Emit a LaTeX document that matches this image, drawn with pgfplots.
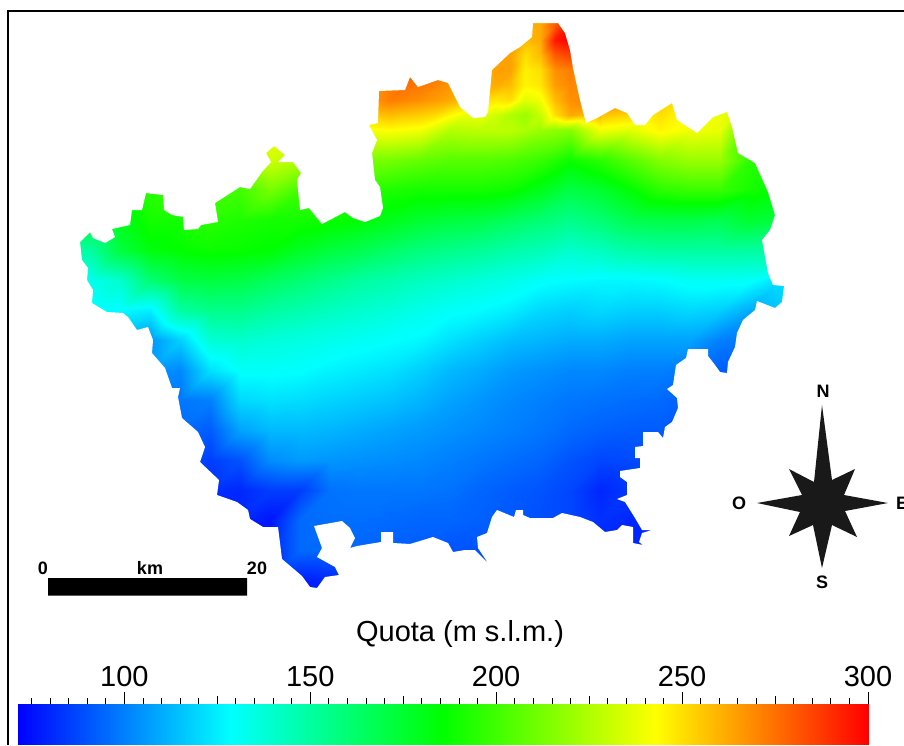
\documentclass[border=0pt]{standalone}
\usepackage{pgfplots}
\pgfplotsset{compat=1.18}
\usepackage{fontspec}
\setmainfont{Liberation Sans}
\pgfplotsset{colormap={quota}{rgb255(0)=(0,0,255) rgb255(1)=(0,255,255) rgb255(2)=(0,255,0) rgb255(3)=(255,255,0) rgb255(4)=(255,0,0)}}
\begin{document}
\begin{tikzpicture}[x=1pt,y=1pt]
\useasboundingbox (0,0) rectangle (904,745);
\begin{axis}[at={(0pt,0pt)},anchor=south west,width=904pt,height=745pt,scale only axis,
  xmin=0,xmax=904,ymin=0,ymax=745,y dir=reverse,hide axis,clip=false,
  colormap name=quota,point meta min=71.4,point meta max=300]
\addplot[surf,shader=interp,mesh/rows=21,mesh/cols=26,point meta=explicit] coordinates {
(60,10)[200] (90,10)[200] (120,10)[200] (150,10)[210] (180,10)[220] (210,10)[225] (240,10)[230] (270,10)[235] (300,10)[235] (330,10)[240] (360,10)[250] (390,10)[270] (420,10)[275] (450,10)[270] (480,10)[260] (510,10)[262] (540,10)[262] (570,10)[300] (600,10)[285] (630,10)[270] (660,10)[260] (690,10)[250] (720,10)[245] (750,10)[240] (780,10)[230] (810,10)[230]
(60,40)[200] (90,40)[200] (120,40)[200] (150,40)[210] (180,40)[220] (210,40)[225] (240,40)[230] (270,40)[235] (300,40)[235] (330,40)[240] (360,40)[250] (390,40)[270] (420,40)[275] (450,40)[270] (480,40)[260] (510,40)[260] (540,40)[257] (570,40)[298] (600,40)[285] (630,40)[270] (660,40)[260] (690,40)[250] (720,40)[245] (750,40)[240] (780,40)[230] (810,40)[230]
(60,70)[200] (90,70)[200] (120,70)[200] (150,70)[210] (180,70)[220] (210,70)[225] (240,70)[230] (270,70)[235] (300,70)[235] (330,70)[240] (360,70)[255] (390,70)[272] (420,70)[278] (450,70)[272] (480,70)[262] (510,70)[262] (540,70)[248] (570,70)[272] (600,70)[268] (630,70)[270] (660,70)[260] (690,70)[250] (720,70)[245] (750,70)[240] (780,70)[230] (810,70)[230]
(60,100)[200] (90,100)[200] (120,100)[200] (150,100)[210] (180,100)[220] (210,100)[225] (240,100)[230] (270,100)[235] (300,100)[235] (330,100)[240] (360,100)[262] (390,100)[272] (420,100)[268] (450,100)[262] (480,100)[250] (510,100)[256] (540,100)[246] (570,100)[268] (600,100)[272] (630,100)[268] (660,100)[255] (690,100)[246] (720,100)[240] (750,100)[225] (780,100)[205] (810,100)[205]
(60,130)[190] (90,130)[190] (120,130)[195] (150,130)[205] (180,130)[215] (210,130)[225] (240,130)[232] (270,130)[240] (300,130)[235] (330,130)[240] (360,130)[240] (390,130)[243] (420,130)[240] (450,130)[226] (480,130)[228] (510,130)[228] (540,130)[220] (570,130)[215] (600,130)[240] (630,130)[236] (660,130)[245] (690,130)[240] (720,130)[238] (750,130)[195] (780,130)[195] (810,130)[195]
(60,160)[190] (90,160)[190] (120,160)[195] (150,160)[200] (180,160)[210] (210,160)[215] (240,160)[225] (270,160)[232] (300,160)[225] (330,160)[218] (360,160)[212] (390,160)[212] (420,160)[208] (450,160)[205] (480,160)[205] (510,160)[203] (540,160)[198] (570,160)[188] (600,160)[195] (630,160)[205] (660,160)[215] (690,160)[220] (720,160)[220] (750,160)[195] (780,160)[190] (810,160)[190]
(60,190)[185] (90,190)[185] (120,190)[190] (150,190)[195] (180,190)[198] (210,190)[200] (240,190)[200] (270,190)[212] (300,190)[200] (330,190)[197] (360,190)[195] (390,190)[192] (420,190)[190] (450,190)[190] (480,190)[190] (510,190)[188] (540,190)[180] (570,190)[170] (600,190)[175] (630,190)[185] (660,190)[195] (690,190)[198] (720,190)[198] (750,190)[190] (780,190)[185] (810,190)[185]
(60,220)[170] (90,220)[175] (120,220)[180] (150,220)[190] (180,220)[190] (210,220)[195] (240,220)[192] (270,220)[190] (300,220)[190] (330,220)[188] (360,220)[185] (390,220)[180] (420,220)[175] (450,220)[172] (480,220)[170] (510,220)[165] (540,220)[160] (570,220)[155] (600,220)[160] (630,220)[168] (660,220)[170] (690,220)[170] (720,220)[168] (750,220)[175] (780,220)[172] (810,220)[170]
(60,250)[145] (90,250)[150] (120,250)[172] (150,250)[183] (180,250)[186] (210,250)[188] (240,250)[187] (270,250)[185] (300,250)[178] (330,250)[172] (360,250)[168] (390,250)[163] (420,250)[158] (450,250)[155] (480,250)[152] (510,250)[148] (540,250)[145] (570,250)[140] (600,250)[143] (630,250)[148] (660,250)[150] (690,250)[150] (720,250)[150] (750,250)[150] (780,250)[150] (810,250)[150]
(60,280)[132] (90,280)[132] (120,280)[140] (150,280)[160] (180,280)[170] (210,280)[172] (240,280)[170] (270,280)[165] (300,280)[160] (330,280)[155] (360,280)[150] (390,280)[147] (420,280)[143] (450,280)[140] (480,280)[137] (510,280)[134] (540,280)[130] (570,280)[128] (600,280)[127] (630,280)[127] (660,280)[128] (690,280)[131] (720,280)[131] (750,280)[130] (780,280)[122] (810,280)[122]
(60,310)[128] (90,310)[128] (120,310)[128] (150,310)[125] (180,310)[150] (210,310)[155] (240,310)[155] (270,310)[150] (300,310)[147] (330,310)[143] (360,310)[140] (390,310)[137] (420,310)[133] (450,310)[130] (480,310)[128] (510,310)[125] (540,310)[120] (570,310)[118] (600,310)[120] (630,310)[118] (660,310)[118] (690,310)[120] (720,310)[118] (750,310)[110] (780,310)[116] (810,310)[116]
(60,340)[115] (90,340)[112] (120,340)[110] (150,340)[105] (180,340)[118] (210,340)[138] (240,340)[140] (270,340)[137] (300,340)[135] (330,340)[133] (360,340)[131] (390,340)[129] (420,340)[127] (450,340)[122] (480,340)[118] (510,340)[114] (540,340)[112] (570,340)[110] (600,340)[110] (630,340)[108] (660,340)[108] (690,340)[108] (720,340)[100] (750,340)[98] (780,340)[100] (810,340)[100]
(60,370)[105] (90,370)[105] (120,370)[105] (150,370)[105] (180,370)[102] (210,370)[122] (240,370)[130] (270,370)[130] (300,370)[129] (330,370)[126] (360,370)[124] (390,370)[122] (420,370)[118] (450,370)[113] (480,370)[110] (510,370)[106] (540,370)[104] (570,370)[102] (600,370)[102] (630,370)[100] (660,370)[100] (690,370)[98] (720,370)[92] (750,370)[92] (780,370)[92] (810,370)[92]
(60,400)[100] (90,400)[100] (120,400)[100] (150,400)[100] (180,400)[98] (210,400)[100] (240,400)[120] (270,400)[122] (300,400)[121] (330,400)[119] (360,400)[117] (390,400)[115] (420,400)[112] (450,400)[108] (480,400)[105] (510,400)[102] (540,400)[100] (570,400)[98] (600,400)[97] (630,400)[96] (660,400)[95] (690,400)[92] (720,400)[90] (750,400)[90] (780,400)[90] (810,400)[90]
(60,430)[95] (90,430)[95] (120,430)[95] (150,430)[95] (180,430)[95] (210,430)[92] (240,430)[108] (270,430)[113] (300,430)[113] (330,430)[112] (360,430)[110] (390,430)[108] (420,430)[106] (450,430)[104] (480,430)[102] (510,430)[100] (540,430)[98] (570,430)[95] (600,430)[93] (630,430)[92] (660,430)[92] (690,430)[88] (720,430)[88] (750,430)[88] (780,430)[88] (810,430)[88]
(60,460)[90] (90,460)[90] (120,460)[90] (150,460)[90] (180,460)[90] (210,460)[85] (240,460)[90] (270,460)[103] (300,460)[106] (330,460)[105] (360,460)[104] (390,460)[103] (420,460)[102] (450,460)[100] (480,460)[98] (510,460)[96] (540,460)[94] (570,460)[90] (600,460)[87] (630,460)[88] (660,460)[88] (690,460)[85] (720,460)[85] (750,460)[85] (780,460)[85] (810,460)[85]
(60,490)[85] (90,490)[85] (120,490)[85] (150,490)[85] (180,490)[85] (210,490)[82] (240,490)[80] (270,490)[85] (300,490)[85] (330,490)[97] (360,490)[98] (390,490)[98] (420,490)[98] (450,490)[97] (480,490)[94] (510,490)[92] (540,490)[90] (570,490)[87] (600,490)[80] (630,490)[84] (660,490)[84] (690,490)[80] (720,490)[80] (750,490)[80] (780,490)[80] (810,490)[80]
(60,520)[80] (90,520)[80] (120,520)[80] (150,520)[80] (180,520)[80] (210,520)[80] (240,520)[80] (270,520)[76] (300,520)[95] (330,520)[96] (360,520)[96] (390,520)[95] (420,520)[94] (450,520)[94] (480,520)[93] (510,520)[91] (540,520)[89] (570,520)[87] (600,520)[82] (630,520)[80] (660,520)[80] (690,520)[75] (720,520)[75] (750,520)[75] (780,520)[75] (810,520)[75]
(60,550)[80] (90,550)[80] (120,550)[80] (150,550)[80] (180,550)[80] (210,550)[80] (240,550)[80] (270,550)[80] (300,550)[95] (330,550)[95] (360,550)[94] (390,550)[93] (420,550)[92] (450,550)[90] (480,550)[90] (510,550)[90] (540,550)[85] (570,550)[85] (600,550)[80] (630,550)[80] (660,550)[80] (690,550)[80] (720,550)[80] (750,550)[80] (780,550)[80] (810,550)[80]
(60,580)[80] (90,580)[80] (120,580)[80] (150,580)[80] (180,580)[80] (210,580)[80] (240,580)[80] (270,580)[80] (300,580)[78] (330,580)[80] (360,580)[80] (390,580)[80] (420,580)[80] (450,580)[80] (480,580)[80] (510,580)[80] (540,580)[80] (570,580)[80] (600,580)[80] (630,580)[80] (660,580)[80] (690,580)[80] (720,580)[80] (750,580)[80] (780,580)[80] (810,580)[80]
(60,610)[75] (90,610)[75] (120,610)[75] (150,610)[75] (180,610)[75] (210,610)[75] (240,610)[75] (270,610)[75] (300,610)[72] (330,610)[75] (360,610)[75] (390,610)[75] (420,610)[75] (450,610)[75] (480,610)[75] (510,610)[75] (540,610)[75] (570,610)[75] (600,610)[75] (630,610)[75] (660,610)[75] (690,610)[75] (720,610)[75] (750,610)[75] (780,610)[75] (810,610)[75]
};
\addplot[surf,shader=interp,mesh/rows=9,mesh/cols=9,point meta=explicit] coordinates {
(480,10)[262] (495,10)[262] (510,10)[262] (525,10)[262] (540,10)[262] (555,10)[270] (570,10)[295] (585,10)[290] (600,10)[280]
(480,25)[262] (495,25)[262] (510,25)[262] (525,25)[260] (540,25)[262] (555,25)[280] (570,25)[298] (585,25)[290] (600,25)[280]
(480,40)[262] (495,40)[262] (510,40)[262] (525,40)[258] (540,40)[262] (555,40)[295] (570,40)[300] (585,40)[290] (600,40)[280]
(480,55)[262] (495,55)[262] (510,55)[264] (525,55)[250] (540,55)[258] (555,55)[280] (570,55)[285] (585,55)[275] (600,55)[270]
(480,70)[262] (495,70)[264] (510,70)[264] (525,70)[246] (540,70)[250] (555,70)[268] (570,70)[272] (585,70)[268] (600,70)[265]
(480,85)[256] (495,85)[262] (510,85)[258] (525,85)[245] (540,85)[248] (555,85)[265] (570,85)[270] (585,85)[268] (600,85)[265]
(480,100)[250] (495,100)[248] (510,100)[250] (525,100)[236] (540,100)[240] (555,100)[258] (570,100)[268] (585,100)[270] (600,100)[265]
(480,115)[239] (495,115)[232] (510,115)[225] (525,115)[220] (540,115)[230] (555,115)[250] (570,115)[262] (585,115)[258] (600,115)[260]
(480,130)[228] (495,130)[228] (510,130)[228] (525,130)[224] (540,130)[220] (555,130)[217] (570,130)[215] (585,130)[228] (600,130)[240]
};
% white mask outside the basin outline
\addplot[fill=white,draw=none,even odd rule,forget plot] coordinates {
(0,0)(904,0)(904,700)(0,700)(0,0)(80,242)
(90,232)(93,238)(105,243)(115,237)(112,229)(130,225)(132,210)(142,210)(146,193)(163,195)(164,210)(172,215)(183,217)(184,230)(198,229)(201,225)(218,222)(215,203)(240,187)(250,189)(262,172)(271,162)(266,153)(274,146)(285,155)(278,162)(293,162)(301,173)(297,180)(300,210)(309,208)(322,224)(345,212)(353,218)(365,222)(380,216)(383,208)(380,187)(375,180)(372,153)(377,140)(369,125)(378,123)(379,91)(405,90)(410,77)(418,87)(438,80)(448,83)(460,107)(473,118)(485,117)(488,112)(492,70)(510,53)(520,47)(532,37)(533,23)(558,23)(565,33)(570,50)(573,68)(580,100)(586,123)(597,118)(615,108)(627,113)(635,125)(645,125)(653,115)(672,103)(677,120)(697,133)(713,117)(727,112)(732,127)(738,153)(755,163)(768,192)(775,215)(770,230)(762,240)(768,273)(773,285)(784,286)(782,302)(775,308)(757,301)(755,310)(743,320)(737,333)(735,347)(728,362)(727,373)(720,372)(715,365)(708,356)(708,349)(688,349)(686,358)(676,365)(673,385)(667,389)(677,398)(678,408)(672,422)(665,427)(663,438)(658,432)(643,432)(643,446)(635,447)(635,458)(640,458)(640,468)(620,471)(620,477)(627,482)(627,495)(617,499)(625,502)(635,518)(642,530)(652,530)(642,533)(639,542)(643,545)(633,543)(633,527)(622,525)(617,530)(605,532)(593,522)(580,517)(562,513)(553,518)(530,518)(523,515)(523,510)(516,510)(514,517)(497,510)(492,517)(487,533)(477,537)(478,548)(488,563)(475,550)(465,550)(453,552)(448,543)(433,537)(410,544)(393,543)(393,532)(381,532)(381,542)(357,546)(350,548)(355,538)(350,528)(342,521)(314,526)(322,548)(317,557)(335,567)(339,575)(325,577)(317,588)(310,587)(302,576)(282,559)(278,527)(263,527)(250,519)(248,510)(237,502)(217,495)(219,480)(200,462)(205,447)(198,432)(182,418)(178,397)(180,388)(172,388)(165,368)(152,353)(153,340)(148,327)(137,330)(128,317)(123,313)(107,312)(92,303)(93,290)(87,280)(88,268)(82,260)(80,242)(0,0)
};
% frame
\addplot[black,line width=2pt,forget plot] coordinates {(8,745)(8,11)(904,11)};
% scale bar
\addplot[fill=black,draw=none,forget plot] coordinates {(48,578)(247,578)(247,595.5)(48,595.5)(48,578)};
% compass
\addplot[fill=black!90,draw=none,forget plot] coordinates {(822,405)(832,480)(855,469)(844,495)(888,503)(845,511)(857,537)(832,525)(822,568)(813,525)(789,536)(800,512)(757,503)(802,495)(789,469)(814,482)(822,405)};
\node[font=\fontsize{29}{30}\selectfont] at (axis cs:460,634) {Quota (m s.l.m.)};
\node[font=\fontsize{18}{20}\selectfont\bfseries] at (axis cs:43,568) {0};
\node[font=\fontsize{18}{20}\selectfont\bfseries] at (axis cs:150,568) {km};
\node[font=\fontsize{18}{20}\selectfont\bfseries] at (axis cs:257,568) {20};
\node[font=\fontsize{18}{20}\selectfont\bfseries] at (axis cs:823,391) {N};
\node[font=\fontsize{18}{20}\selectfont\bfseries] at (axis cs:739,503) {O};
\node[font=\fontsize{18}{20}\selectfont\bfseries] at (axis cs:822,582) {S};
\node[font=\fontsize{18}{20}\selectfont\bfseries,anchor=west,inner sep=0pt] at (axis cs:896,503) {E};
\end{axis}
\begin{axis}[at={(18pt,1pt)},anchor=south west,width=850pt,height=40pt,scale only axis,
  xmin=71.4,xmax=300,ymin=0,ymax=1,axis x line*=top,axis y line=none,
  colormap name=quota,point meta min=71.4,point meta max=300,
  xtick={100,150,200,250,300},
  minor xtick={75,80,85,90,95,105,110,115,120,130,135,140,145,155,160,165,170,180,185,190,195,205,210,215,220,230,235,240,245,255,260,265,270,280,285,290,295},
  extra x ticks={125,175,225,275},extra x tick labels={},
  extra x tick style={major tick length=8pt},
  major tick length=12pt,minor tick length=6pt,
  x tick style={black,line width=0.8pt},minor x tick style={black,line width=0.8pt},
  x axis line style={-,black,line width=0.8pt},
  tick align=outside,xticklabel pos=top,
  xticklabel style={font=\fontsize{29}{30}\selectfont,/pgf/number format/assume math mode=true,yshift=3pt},
  tick label style={inner sep=2pt}]
\addplot[surf,shader=interp,mesh/rows=2,mesh/cols=2,point meta=explicit] coordinates {
(71.4,0)[71.4] (300,0)[300]
(71.4,1)[71.4] (300,1)[300]
};
\end{axis}
\end{tikzpicture}
\end{document}
